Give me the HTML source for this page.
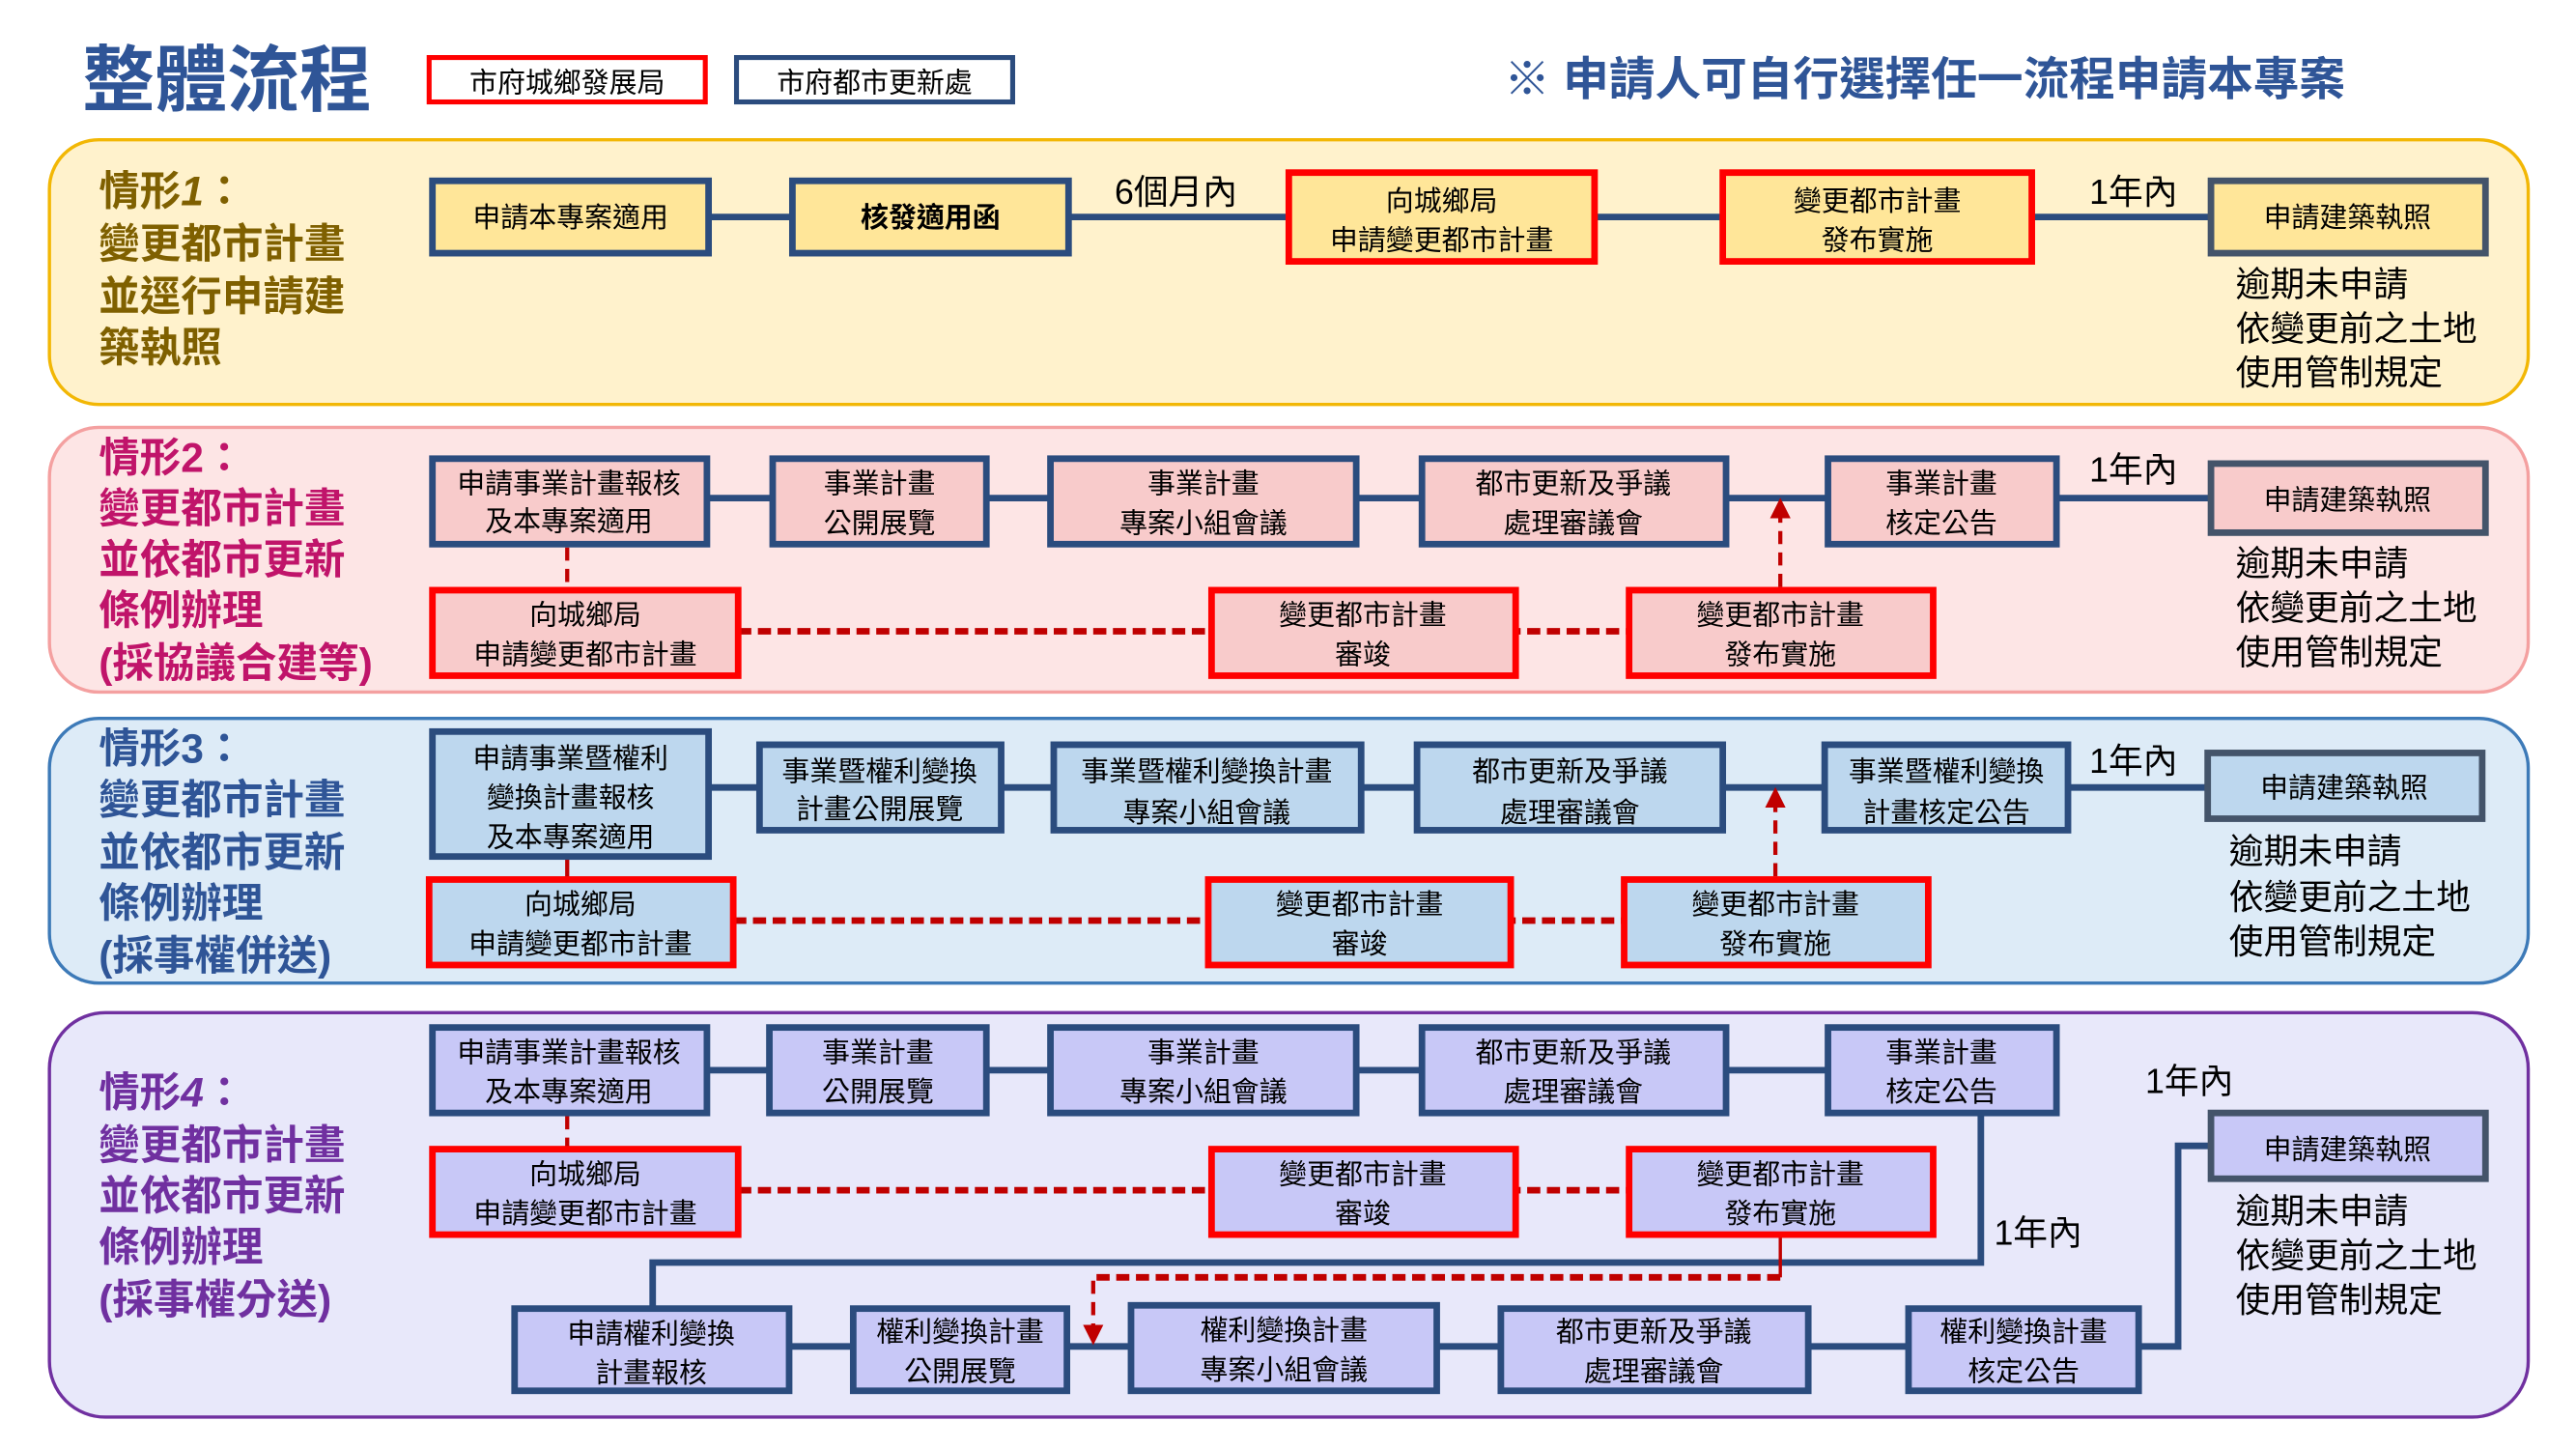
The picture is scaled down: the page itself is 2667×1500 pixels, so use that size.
<!DOCTYPE html>
<html><head><meta charset="utf-8"><style>
html,body{margin:0;padding:0;background:#fff;}
svg{display:block;}
text{font-family:"Liberation Sans","Noto Sans CJK TC",sans-serif;}
.b{font-size:17px;fill:#000;text-anchor:middle;}
.t{font-size:21px;fill:#000;}
.lb{font-size:25px;font-weight:bold;}
.bx{stroke:#2B4C7E;stroke-width:4;}
.rx{stroke:#FF0000;stroke-width:4;}
.gx{stroke:#44546A;stroke-width:4;}
.ln{stroke:#2B4C7E;stroke-width:4;fill:none;}
.dr{stroke:#C00000;stroke-width:4;stroke-dasharray:8 4;fill:none;}
.da{stroke:#C00000;stroke-width:2.5;stroke-dasharray:8 5;fill:none;}
</style></head><body>
<svg width="2667" height="1500" viewBox="0 0 1567 881.4" xmlns="http://www.w3.org/2000/svg">
<defs>
<marker id="ar" viewBox="0 0 10 10" refX="5" refY="5" markerWidth="5" markerHeight="5" orient="auto"><path d="M0,0 L10,5 L0,10 z" fill="#C00000"/></marker>
</defs>
<text x="50" y="64" style="font-size:44px;font-weight:bold;fill:#2F5597">整體流程</text>
<rect x="261" y="35" width="168" height="27" fill="#fff" stroke="#FF0000" stroke-width="3"/>
<text x="345" y="56" class="b">市府城鄉發展局</text>
<rect x="448" y="35" width="168" height="27" fill="#fff" stroke="#2B4C7E" stroke-width="3"/>
<text x="532" y="56" class="b">市府都市更新處</text>
<text x="915" y="58" style="font-size:28px;font-weight:bold;fill:#2F5597">※ 申請人可自行選擇任一流程申請本專案</text>

<rect x="30" y="85" width="1508" height="161" rx="30" fill="#FFF2CC" stroke="#F2B705" stroke-width="2"/>
<g class="lb" style="fill:#7F6000"><text x="60" y="125">情形<tspan font-style="italic">1</tspan>：</text><text x="60" y="157">變更都市計畫</text><text x="60" y="189">並逕行申請建</text><text x="60" y="220">築執照</text></g>
<line x1="431" y1="132" x2="1345" y2="132" class="ln"/>
<rect x="263" y="110" width="168" height="44" fill="#FFE699" class="bx"/><text x="347" y="138" class="b">申請本專案適用</text>
<rect x="482" y="110" width="168" height="44" fill="#FFE699" class="bx"/><text x="566" y="138" class="b" font-weight="bold">核發適用函</text>
<rect x="784" y="105" width="186" height="54" fill="#FFE699" class="rx"/><text x="877" y="128" class="b">向城鄉局</text><text x="877" y="152" class="b">申請變更都市計畫</text>
<rect x="1048" y="105" width="188" height="54" fill="#FFE699" class="rx"/><text x="1142" y="128" class="b">變更都市計畫</text><text x="1142" y="152" class="b">發布實施</text>
<rect x="1345" y="110" width="167" height="44" fill="#FFE699" class="gx"/><text x="1428" y="138" class="b">申請建築執照</text>
<text x="678" y="124" class="t">6個月內</text><text x="1271" y="124" class="t">1年內</text>
<text x="1360" y="180" class="t">逾期未申請</text><text x="1360" y="207" class="t">依變更前之土地</text><text x="1360" y="234" class="t">使用管制規定</text>

<rect x="30" y="260" width="1508" height="161" rx="30" fill="#FDE5E5" stroke="#F4A0A0" stroke-width="2"/>
<g class="lb" style="fill:#C0146A"><text x="60" y="287">情形2：</text><text x="60" y="318">變更都市計畫</text><text x="60" y="349">並依都市更新</text><text x="60" y="380">條例辦理</text><text x="60" y="412">(採協議合建等)</text></g>
<line x1="430" y1="303" x2="1345" y2="303" class="ln"/>
<line x1="345" y1="333" x2="345" y2="359" class="da"/>
<line x1="449" y1="384" x2="991" y2="384" class="dr"/>
<line x1="1083" y1="357" x2="1083" y2="309" class="da" marker-end="url(#ar)"/>
<g fill="#F8CBCB">
<rect x="263" y="279" width="167" height="52" class="bx"/><rect x="470" y="279" width="130" height="52" class="bx"/><rect x="639" y="279" width="186" height="52" class="bx"/><rect x="865" y="279" width="185" height="52" class="bx"/><rect x="1112" y="279" width="139" height="52" class="bx"/>
<rect x="1345" y="282" width="167" height="42" class="gx"/>
<rect x="263" y="359" width="186" height="52" class="rx"/><rect x="737" y="359" width="185" height="52" class="rx"/><rect x="991" y="359" width="185" height="52" class="rx"/>
</g>
<text x="346" y="300" class="b">申請事業計畫報核</text><text x="346" y="323" class="b">及本專案適用</text>
<text x="535" y="300" class="b">事業計畫</text><text x="535" y="324" class="b">公開展覽</text>
<text x="732" y="300" class="b">事業計畫</text><text x="732" y="324" class="b">專案小組會議</text>
<text x="957" y="300" class="b">都市更新及爭議</text><text x="957" y="324" class="b">處理審議會</text>
<text x="1181" y="300" class="b">事業計畫</text><text x="1181" y="324" class="b">核定公告</text>
<text x="1428" y="310" class="b">申請建築執照</text>
<text x="356" y="380" class="b">向城鄉局</text><text x="356" y="404" class="b">申請變更都市計畫</text>
<text x="829" y="380" class="b">變更都市計畫</text><text x="829" y="404" class="b">審竣</text>
<text x="1083" y="380" class="b">變更都市計畫</text><text x="1083" y="404" class="b">發布實施</text>
<text x="1271" y="293" class="t">1年內</text>
<text x="1360" y="350" class="t">逾期未申請</text><text x="1360" y="377" class="t">依變更前之土地</text><text x="1360" y="404" class="t">使用管制規定</text>

<rect x="30" y="437" width="1508" height="161" rx="30" fill="#DDEBF7" stroke="#3D7AB8" stroke-width="2"/>
<g class="lb" style="fill:#2F5597"><text x="60" y="464">情形3：</text><text x="60" y="495">變更都市計畫</text><text x="60" y="527">並依都市更新</text><text x="60" y="558">條例辦理</text><text x="60" y="590">(採事權併送)</text></g>
<line x1="431" y1="479" x2="1343" y2="479" class="ln"/>
<line x1="345" y1="521" x2="345" y2="535" stroke="#C00000" stroke-width="2.5"/>
<line x1="446" y1="560" x2="988" y2="560" class="dr"/>
<line x1="1080" y1="533" x2="1080" y2="485" class="da" marker-end="url(#ar)"/>
<g fill="#BDD7EE">
<rect x="263" y="445" width="168" height="76" class="bx"/><rect x="462" y="453" width="147" height="52" class="bx"/><rect x="641" y="453" width="187" height="52" class="bx"/><rect x="862" y="453" width="186" height="52" class="bx"/><rect x="1110" y="453" width="148" height="52" class="bx"/>
<rect x="1343" y="458" width="167" height="40" class="gx"/>
<rect x="261" y="535" width="185" height="52" class="rx"/><rect x="735" y="535" width="184" height="52" class="rx"/><rect x="988" y="535" width="185" height="52" class="rx"/>
</g>
<text x="347" y="467" class="b">申請事業暨權利</text><text x="347" y="491" class="b">變換計畫報核</text><text x="347" y="515" class="b">及本專案適用</text>
<text x="535" y="475" class="b">事業暨權利變換</text><text x="535" y="498" class="b">計畫公開展覽</text>
<text x="734" y="475" class="b">事業暨權利變換計畫</text><text x="734" y="500" class="b">專案小組會議</text>
<text x="955" y="475" class="b">都市更新及爭議</text><text x="955" y="500" class="b">處理審議會</text>
<text x="1184" y="475" class="b">事業暨權利變換</text><text x="1184" y="500" class="b">計畫核定公告</text>
<text x="1426" y="485" class="b">申請建築執照</text>
<text x="353" y="556" class="b">向城鄉局</text><text x="353" y="580" class="b">申請變更都市計畫</text>
<text x="827" y="556" class="b">變更都市計畫</text><text x="827" y="580" class="b">審竣</text>
<text x="1080" y="556" class="b">變更都市計畫</text><text x="1080" y="580" class="b">發布實施</text>
<text x="1271" y="470" class="t">1年內</text>
<text x="1356" y="525" class="t">逾期未申請</text><text x="1356" y="553" class="t">依變更前之土地</text><text x="1356" y="580" class="t">使用管制規定</text>

<rect x="30" y="616" width="1508" height="246" rx="34" fill="#E8E8FA" stroke="#7030A0" stroke-width="2"/>
<g class="lb" style="fill:#7030A0"><text x="60" y="673">情形<tspan font-style="italic">4</tspan>：</text><text x="60" y="705">變更都市計畫</text><text x="60" y="736">並依都市更新</text><text x="60" y="767">條例辦理</text><text x="60" y="799">(採事權分送)</text></g>
<line x1="430" y1="651" x2="1112" y2="651" class="ln"/>
<polyline points="1205,677 1205,768 397,768 397,796" class="ln"/>
<line x1="480" y1="819" x2="1161" y2="819" class="ln"/>
<polyline points="1301,819 1325,819 1325,697 1345,697" class="ln"/>
<line x1="345" y1="679" x2="345" y2="699" class="da"/>
<line x1="449" y1="724" x2="991" y2="724" class="dr"/>
<line x1="1083" y1="753" x2="1083" y2="777" stroke="#C00000" stroke-width="2"/>
<line x1="1083" y1="777" x2="665" y2="777" class="dr"/>
<line x1="665" y1="779" x2="665" y2="812" class="da" marker-end="url(#ar)"/>
<g fill="#C8C8F7">
<rect x="263" y="625" width="167" height="52" class="bx"/><rect x="468" y="625" width="132" height="52" class="bx"/><rect x="639" y="625" width="186" height="52" class="bx"/><rect x="865" y="625" width="185" height="52" class="bx"/><rect x="1112" y="625" width="139" height="52" class="bx"/>
<rect x="1345" y="677" width="167" height="40" class="gx"/>
<rect x="263" y="699" width="186" height="52" class="rx"/><rect x="737" y="699" width="185" height="52" class="rx"/><rect x="991" y="699" width="185" height="52" class="rx"/>
<rect x="313" y="796" width="167" height="50" class="bx"/><rect x="519" y="796" width="130" height="50" class="bx"/><rect x="688" y="794" width="186" height="52" class="bx"/><rect x="913" y="796" width="187" height="50" class="bx"/><rect x="1161" y="796" width="140" height="50" class="bx"/>
</g>
<text x="346" y="646" class="b">申請事業計畫報核</text><text x="346" y="670" class="b">及本專案適用</text>
<text x="534" y="646" class="b">事業計畫</text><text x="534" y="670" class="b">公開展覽</text>
<text x="732" y="646" class="b">事業計畫</text><text x="732" y="670" class="b">專案小組會議</text>
<text x="957" y="646" class="b">都市更新及爭議</text><text x="957" y="670" class="b">處理審議會</text>
<text x="1181" y="646" class="b">事業計畫</text><text x="1181" y="670" class="b">核定公告</text>
<text x="1428" y="705" class="b">申請建築執照</text>
<text x="356" y="720" class="b">向城鄉局</text><text x="356" y="744" class="b">申請變更都市計畫</text>
<text x="829" y="720" class="b">變更都市計畫</text><text x="829" y="744" class="b">審竣</text>
<text x="1083" y="720" class="b">變更都市計畫</text><text x="1083" y="744" class="b">發布實施</text>
<text x="396" y="817" class="b">申請權利變換</text><text x="396" y="841" class="b">計畫報核</text>
<text x="584" y="816" class="b">權利變換計畫</text><text x="584" y="840" class="b">公開展覽</text>
<text x="781" y="815" class="b">權利變換計畫</text><text x="781" y="839" class="b">專案小組會議</text>
<text x="1006" y="816" class="b">都市更新及爭議</text><text x="1006" y="840" class="b">處理審議會</text>
<text x="1231" y="816" class="b">權利變換計畫</text><text x="1231" y="840" class="b">核定公告</text>
<text x="1213" y="757" class="t">1年內</text><text x="1305" y="665" class="t">1年內</text>
<text x="1360" y="744" class="t">逾期未申請</text><text x="1360" y="771" class="t">依變更前之土地</text><text x="1360" y="798" class="t">使用管制規定</text>
</svg>
</body></html>
